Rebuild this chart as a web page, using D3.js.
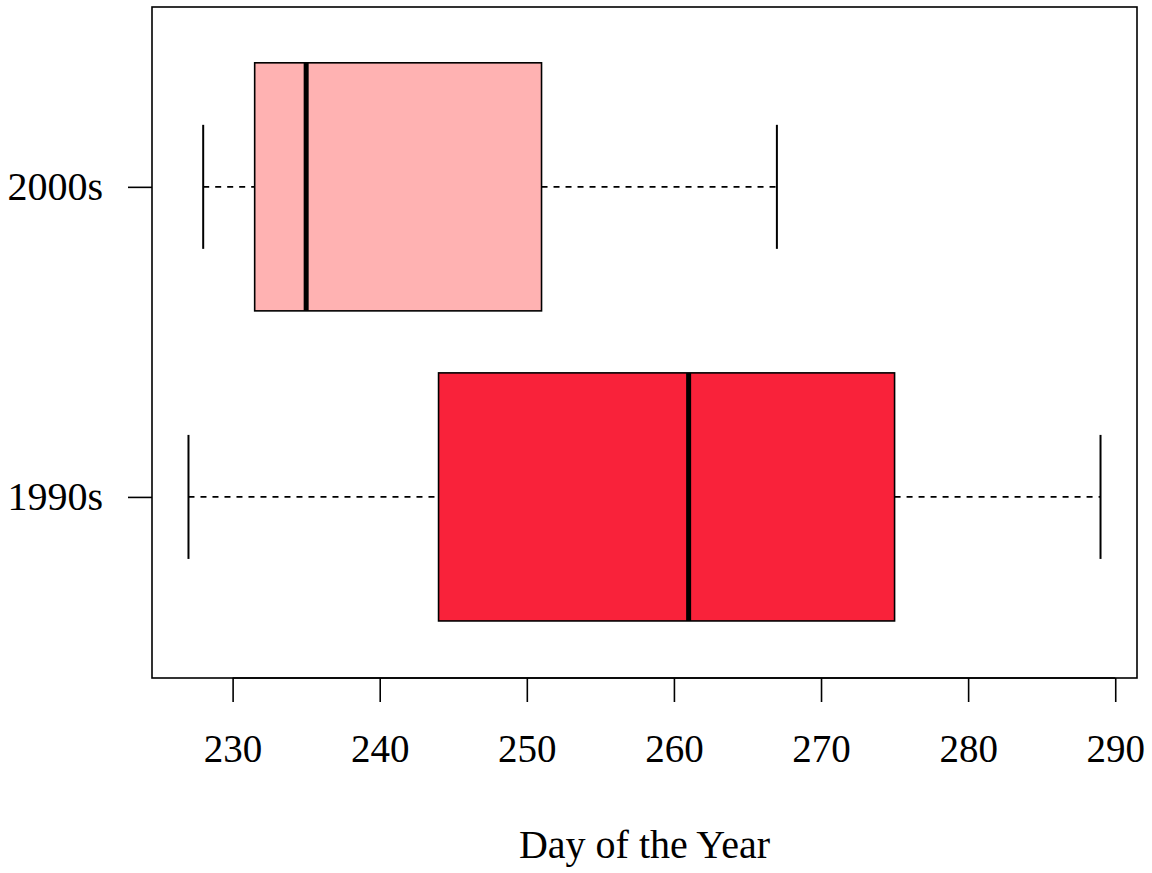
<!DOCTYPE html>
<html><head><meta charset="utf-8">
<script src="https://cdn.jsdelivr.net/npm/d3@7"></script>
<style>body{margin:0;background:#fff}svg text{font-family:"Liberation Serif","Times New Roman",serif}</style>
</head><body>
<svg id="c" width="1152" height="873"></svg>
<script>
const categories = ["1990s", "2000s"];
const whiskerLow = [227, 228];
const q1 = [244, 231.5];
const median = [261, 235];
const q3 = [275, 251];
const whiskerHigh = [289, 267];
const fills = ["#F9223A", "#FFB2B2"];
const xTicks = [230, 240, 250, 260, 270, 280, 290];

const svg = d3.select("#c");
const L = 152, R = 1137, T = 7, B = 678;
const x = d3.scaleLinear().domain([224.52, 291.48]).range([L, R]);
const y = d3.scaleLinear().domain([0.416, 2.58]).range([B, T]);
const halfBox = y(1) - y(1.4);
const halfCap = y(1) - y(1.2);

const g = svg.append("g");
categories.forEach((c, i) => {
  const cy = y(i + 1);
  g.append("line").attr("x1", x(whiskerLow[i])).attr("x2", x(q1[i])).attr("y1", cy).attr("y2", cy)
    .attr("stroke", "#000").attr("stroke-width", 1.8).attr("stroke-dasharray", "6,6");
  g.append("line").attr("x1", x(q3[i])).attr("x2", x(whiskerHigh[i])).attr("y1", cy).attr("y2", cy)
    .attr("stroke", "#000").attr("stroke-width", 1.8).attr("stroke-dasharray", "6,6");
  [whiskerLow[i], whiskerHigh[i]].forEach(v => {
    g.append("line").attr("x1", x(v)).attr("x2", x(v)).attr("y1", cy - halfCap).attr("y2", cy + halfCap)
      .attr("stroke", "#000").attr("stroke-width", 2);
  });
  g.append("rect").attr("x", x(q1[i])).attr("width", x(q3[i]) - x(q1[i]))
    .attr("y", cy - halfBox).attr("height", 2 * halfBox)
    .attr("fill", fills[i]).attr("stroke", "#000").attr("stroke-width", 1.6);
  g.append("line").attr("x1", x(median[i])).attr("x2", x(median[i])).attr("y1", cy - halfBox).attr("y2", cy + halfBox)
    .attr("stroke", "#000").attr("stroke-width", 5);
});

svg.append("rect").attr("x", L).attr("y", T).attr("width", R - L).attr("height", B - T)
  .attr("fill", "none").attr("stroke", "#000").attr("stroke-width", 1.6);

const xa = svg.append("g").attr("transform", `translate(0,${B})`)
  .call(d3.axisBottom(x).tickValues(xTicks).tickSize(24).tickPadding(32).tickFormat(d3.format("d")));
xa.select(".domain").attr("stroke-width", 1.6).attr("d", `M${x(230)},0H${x(290)}`);
xa.selectAll(".tick line").attr("stroke-width", 1.6);
xa.selectAll("text").attr("font-size", 39).attr("fill", "#000");

const ya = svg.append("g").attr("transform", `translate(${L},0)`)
  .call(d3.axisLeft(y).tickValues([1, 2]).tickSize(24).tickPadding(25).tickFormat((d) => categories[d - 1]));
ya.select(".domain").remove();
ya.selectAll(".tick line").attr("stroke-width", 1.6);
ya.selectAll("text").attr("font-size", 40).attr("fill", "#000");

svg.append("text").attr("x", (L + R) / 2).attr("y", 858).attr("text-anchor", "middle")
  .attr("font-size", 40).text("Day of the Year");
</script>
</body></html>
